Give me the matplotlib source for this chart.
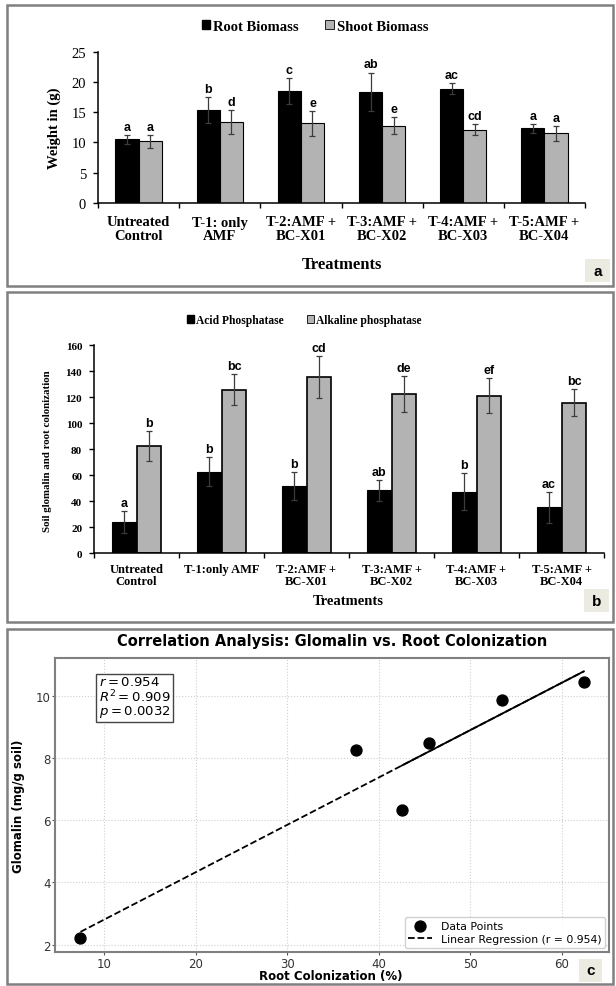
import numpy as np
import matplotlib
matplotlib.use('Agg')
import matplotlib.pyplot as plt
from matplotlib.patches import Rectangle

W, H = 616, 987

# ---------------- data ----------------
treat_a = ["Untreated\nControl", "T-1: only\nAMF", "T-2:AMF +\nBC-X01",
           "T-3:AMF +\nBC-X02", "T-4:AMF +\nBC-X03", "T-5:AMF +\nBC-X04"]
root = [10.5, 15.35, 18.45, 18.35, 18.9, 12.35]
root_err = [0.8, 2.1, 2.15, 3.2, 0.9, 0.75]
shoot = [10.2, 13.4, 13.15, 12.75, 12.1, 11.5]
shoot_err = [1.1, 2.0, 2.1, 1.4, 0.9, 1.2]
root_let = ['a', 'b', 'c', 'ab', 'ac', 'a']
shoot_let = ['a', 'd', 'e', 'e', 'cd', 'a']
ticks_a = [0, 5, 10, 15, 20, 25]

treat_b = ["Untreated\nControl", "T-1:only AMF", "T-2:AMF +\nBC-X01",
           "T-3:AMF +\nBC-X02", "T-4:AMF +\nBC-X03", "T-5:AMF +\nBC-X04"]
acid = [23.8, 62.7, 51.7, 48.4, 47.4, 35.3]
acid_err = [8.5, 11.0, 11.0, 8.0, 14.0, 12.0]
alk = [82.7, 126.0, 135.7, 122.6, 121.1, 116.0]
alk_err = [11.5, 12.0, 16.0, 14.0, 13.5, 10.5]
acid_let = ['a', 'b', 'b', 'ab', 'b', 'ac']
alk_let = ['b', 'bc', 'cd', 'de', 'ef', 'bc']
ticks_b = [0, 20, 40, 60, 80, 100, 120, 140, 160]

colon = [7.4, 37.5, 42.5, 45.5, 53.5, 62.4]
glom = [2.2, 8.25, 6.33, 8.46, 9.87, 10.44]
solid_from = 42.5
stats_txt = "$r = 0.954$\n$R^2 = 0.909$\n$p = 0.0032$"

# ---------------- helpers ----------------
def fx(x):
    return x / W

def fy(y):
    return 1 - y / H

def axrect(l, t, r, b):
    return [fx(l), fy(b), (r - l) / W, (b - t) / H]

SERIF = ['Liberation Serif', 'DejaVu Serif']
SANS = ['Liberation Sans', 'DejaVu Sans']
plt.rcParams['mathtext.fontset'] = 'dejavusans'

fig = plt.figure(figsize=(W / 100, H / 100), dpi=100)
fig.patch.set_facecolor('white')

def panel_border(l, t, r, b):
    fig.patches.append(Rectangle((fx(l), fy(b)), (r - l) / W, (b - t) / H,
                                 transform=fig.transFigure, fill=False,
                                 edgecolor='#808080', lw=1.8, zorder=0))

def label_box(l, t, r, b, s):
    fig.patches.append(Rectangle((fx(l), fy(b)), (r - l) / W, (b - t) / H,
                                 transform=fig.transFigure, facecolor='#ecebe1',
                                 edgecolor='none', zorder=1))
    fig.text(fx((l + r) / 2), fy((t + b) / 2), s, ha='center', va='center',
             fontsize=11, fontweight='bold', family=SANS, zorder=2)

def bar_panel(ax, cats, v1, e1, v2, e2, l1, l2, ticks, w, c2, ec2lw,
              tick_fs, tick_w, ytick_fs, ytick_w, let_fs, xpad):
    n = len(cats)
    x = np.arange(n) + 0.5
    ax.bar(x - w / 2, v1, w, color='black', edgecolor='black', lw=0.8, zorder=2)
    ax.bar(x + w / 2, v2, w, color=c2, edgecolor='black', lw=ec2lw, zorder=2)
    ax.errorbar(x - w / 2, v1, yerr=e1, fmt='none', ecolor='#3c3c3c',
                elinewidth=0.9, capsize=2.5, capthick=0.9, zorder=3)
    ax.errorbar(x + w / 2, v2, yerr=e2, fmt='none', ecolor='#3c3c3c',
                elinewidth=0.9, capsize=2.5, capthick=0.9, zorder=3)
    for xi, v, e, s in zip(x - w / 2, v1, e1, l1):
        ax.annotate(s, (xi, v + e), xytext=(0, 1.5), textcoords='offset points',
                    ha='center', va='bottom', fontsize=let_fs, fontweight='bold',
                    family=SANS)
    for xi, v, e, s in zip(x + w / 2, v2, e2, l2):
        ax.annotate(s, (xi, v + e), xytext=(0, 1.5), textcoords='offset points',
                    ha='center', va='bottom', fontsize=let_fs, fontweight='bold',
                    family=SANS)
    ax.set_xlim(0, n)
    ax.set_ylim(ticks[0], ticks[-1])
    ax.set_yticks(ticks)
    ax.set_xticks(x)
    ax.set_xticklabels(cats, fontsize=tick_fs, fontweight=tick_w, family=SERIF,
                       linespacing=1.05)
    ax.set_xticks(np.arange(n + 1), minor=True)
    ax.tick_params(axis='x', which='major', length=0, pad=xpad)
    ax.tick_params(axis='x', which='minor', length=3.5, width=1, direction='out')
    ax.tick_params(axis='y', length=3.5, width=1, pad=5)
    for lab in ax.get_yticklabels():
        lab.set_fontsize(ytick_fs)
        lab.set_fontweight(ytick_w)
        lab.set_family(SERIF)
    for s in ['top', 'right']:
        ax.spines[s].set_visible(False)
    for s in ['left', 'bottom']:
        ax.spines[s].set_linewidth(1.1)
    ax.set_facecolor('white')

# ---------------- panel a ----------------
panel_border(7, 6, 613, 287)
axa = fig.add_axes(axrect(98, 52.7, 585, 204))
bar_panel(axa, treat_a, root, root_err, shoot, shoot_err, root_let, shoot_let,
          ticks_a, 0.285, '#b3b3b3', 0.8, 10.5, 'semibold', 10.5, 'normal', 9, 9)
fig.text(fx(54), fy(128), "Weight in (g)", rotation=90, ha='center', va='center',
         fontsize=10.5, fontweight='bold', family=SERIF)
fig.text(fx(341.5), fy(265), "Treatments", ha='center', va='center',
         fontsize=12, fontweight='bold', family=SERIF)
ha1 = Rectangle((0, 0), 1, 1, facecolor='black', edgecolor='black')
ha2 = Rectangle((0, 0), 1, 1, facecolor='#b3b3b3', edgecolor='black', lw=0.6)
fig.legend([ha1, ha2], ["Root Biomass", "Shoot Biomass"], loc='center',
           bbox_to_anchor=(fx(315), fy(27.3)), ncol=2, frameon=False,
           prop={'family': SERIF, 'weight': 'bold', 'size': 10.5},
           handlelength=0.6, handleheight=0.6, handletextpad=0.2,
           columnspacing=1.8)
label_box(585, 260, 610, 283, 'a')

# ---------------- panel b ----------------
panel_border(7, 292.7, 613, 623)
axb = fig.add_axes(axrect(94, 346.3, 604, 554.3))
bar_panel(axb, treat_b, acid, acid_err, alk, alk_err, acid_let, alk_let,
          ticks_b, 0.294, '#b3b3b3', 1.2, 9, 'bold', 8, 'bold', 9, 7)
fig.text(fx(48), fy(451), "Soil glomalin and root colonization", rotation=90,
         ha='center', va='center', fontsize=7.8, fontweight='bold', family=SERIF)
fig.text(fx(348), fy(601.7), "Treatments", ha='center', va='center',
         fontsize=10.5, fontweight='bold', family=SERIF)
hb1 = Rectangle((0, 0), 1, 1, facecolor='black', edgecolor='black')
hb2 = Rectangle((0, 0), 1, 1, facecolor='#b3b3b3', edgecolor='black', lw=0.6)
fig.legend([hb1, hb2], ["Acid Phosphatase", "Alkaline phosphatase"], loc='center',
           bbox_to_anchor=(fx(304), fy(321)), ncol=2, frameon=False,
           prop={'family': SERIF, 'weight': 'bold', 'size': 8.3},
           handlelength=0.6, handleheight=0.6, handletextpad=0.2,
           columnspacing=2.0)
label_box(584, 590, 609, 613, 'b')

# ---------------- panel c ----------------
panel_border(7, 630, 613, 985)
axc = fig.add_axes(axrect(55.3, 659, 609, 952.7))
xs = np.array(colon)
ys = np.array(glom)
slope, icpt = np.polyfit(xs, ys, 1)
xl = np.array([xs.min(), xs.max()])
axc.plot(xl, slope * xl + icpt, ls='--', color='black', lw=1.3,
         label='Linear Regression (r = 0.954)', zorder=2)
xsd = np.array([solid_from, xs.max()])
axc.plot(xsd, slope * xsd + icpt, ls='-', color='black', lw=1.3, zorder=2)
axc.scatter(xs, ys, s=62, color='black', zorder=3, label='Data Points')
axc.set_xticks([10, 20, 30, 40, 50, 60])
axc.set_yticks([2, 4, 6, 8, 10])
axc.grid(True, ls=':', color='#d0d0d0', lw=0.8)
axc.set_axisbelow(True)
for s in axc.spines.values():
    s.set_color('#808080')
    s.set_linewidth(1.5)
axc.tick_params(labelsize=8.5, labelcolor='#333333', color='#555555', length=2.5,
                pad=1)
for lab in axc.get_xticklabels() + axc.get_yticklabels():
    lab.set_family('DejaVu Sans')
handles, labels = axc.get_legend_handles_labels()
axc.legend([handles[1], handles[0]], [labels[1], labels[0]], loc='lower right',
           fontsize=7.8, frameon=True, fancybox=True, framealpha=0.9,
           edgecolor='#cccccc', borderaxespad=0.35, handlelength=2.2,
           borderpad=0.35, labelspacing=0.3)
axc.text(0.079, 0.942, stats_txt, transform=axc.transAxes, va='top', ha='left',
         fontsize=9.5, family='DejaVu Sans', linespacing=0.95,
         bbox=dict(boxstyle='square,pad=0.2', facecolor='white',
                   edgecolor='#444444', lw=1))
fig.text(fx(332), fy(641.7), "Correlation Analysis: Glomalin vs. Root Colonization",
         ha='center', va='center', fontsize=10.5, fontweight='bold',
         family='DejaVu Sans')
fig.text(fx(331), fy(977), "Root Colonization (%)", ha='center', va='center',
         fontsize=8.5, fontweight='bold', family='DejaVu Sans')
fig.text(fx(18.3), fy(806), "Glomalin (mg/g soil)", rotation=90, ha='center',
         va='center', fontsize=8.5, fontweight='bold', family='DejaVu Sans')
label_box(579, 960, 602, 983, 'c')

fig.savefig('out.png', dpi=100, facecolor='white')
